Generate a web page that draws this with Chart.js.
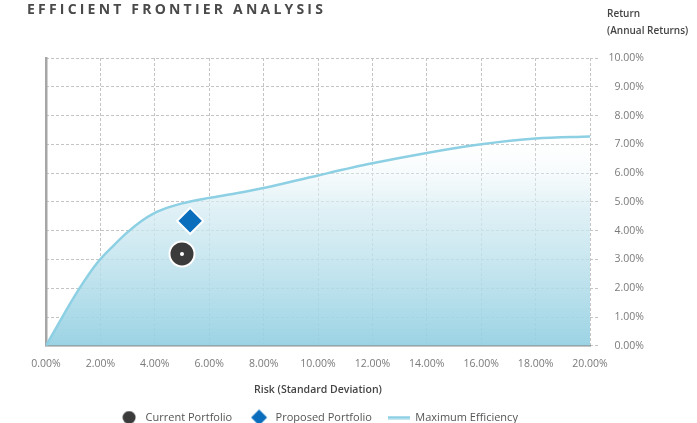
<!DOCTYPE html>
<html>
<head>
<meta charset="utf-8">
<script src="https://cdn.jsdelivr.net/npm/chart.js@4.4.1/dist/chart.umd.min.js"></script>
<style>
  html, body { margin: 0; padding: 0; background: #ffffff; }
  #wrap { width: 697px; height: 423px; position: relative; }
</style>
</head>
<body>
<div id="wrap"><canvas id="c" width="697" height="423"></canvas></div>
<script>
// ---- Data ----
const chartTitle = 'EFFICIENT FRONTIER ANALYSIS';
const yTitleLines = ['Return', '(Annual Returns)'];
const xTitle = 'Risk (Standard Deviation)';
const seriesNames = ['Current Portfolio', 'Proposed Portfolio', 'Maximum Efficiency'];

// Efficient frontier (risk %, return %)
const frontierRisk   = [0, 0.6, 1.2, 1.9, 2.5, 3.0, 3.5, 4.0, 4.5, 5.0, 6.0, 7.0, 8.0, 10.0, 12.0, 14.0, 16.0, 18.0, 20.0];
const frontierReturn = [0, 1.0, 1.95, 2.9, 3.5, 3.95, 4.33, 4.62, 4.81, 4.95, 5.14, 5.3, 5.48, 5.92, 6.34, 6.7, 7.0, 7.2, 7.27];

// Portfolios
const currentRisk = [5.0];
const currentReturn = [3.19];
const proposedRisk = [5.3];
const proposedReturn = [4.34];

// Axis ticks
const xTickMin = 0, xTickMax = 20, xTickStep = 2;
const yTickMin = 0, yTickMax = 10, yTickStep = 1;

// ---- Build ----
const toPts = (xs, ys) => xs.map((x, i) => ({ x: x, y: ys[i] }));
const pct = v => Number(v).toFixed(2) + '%';

const FONT = "'Open Sans', 'Liberation Sans', sans-serif";
const CUR_COLOR = '#3b3b3b';
const PROP_COLOR = '#0a6ebd';
const LINE_COLOR = '#8dd0e4';
const GRID_COLOR = '#c4c4c4';

function iconCanvas(w, h, draw) {
  const c = document.createElement('canvas');
  c.width = w; c.height = h;
  draw(c.getContext('2d'), w, h);
  return c;
}
const iconCircle = iconCanvas(14, 14, (g) => {
  g.fillStyle = CUR_COLOR; g.beginPath(); g.arc(7, 7, 6.5, 0, Math.PI * 2); g.fill();
});
const iconDiamond = iconCanvas(18, 18, (g) => {
  g.fillStyle = PROP_COLOR; g.beginPath();
  g.moveTo(9, 1); g.lineTo(17, 9); g.lineTo(9, 17); g.lineTo(1, 9); g.closePath(); g.fill();
});
const iconLine = iconCanvas(22, 4, (g) => {
  g.fillStyle = LINE_COLOR; g.fillRect(0, 0.5, 22, 3);
});
const legendIcons = [iconCircle, iconDiamond, iconLine];

const textPlugin = {
  id: 'texts',
  afterDraw(chart) {
    const ctx = chart.ctx;
    ctx.save();
    ctx.textBaseline = 'middle';
    ctx.textAlign = 'left';
    ctx.fillStyle = '#4a4a4a';
    ctx.font = "700 14px " + FONT;
    ctx.letterSpacing = '3.2px';
    ctx.fillText(chartTitle, 27, 10);
    ctx.letterSpacing = '0px';
    ctx.fillStyle = '#444444';
    ctx.font = "600 10px " + FONT;
    ctx.fillText(yTitleLines[0], 607, 14);
    ctx.fillText(yTitleLines[1], 607, 31);
    ctx.restore();
  }
};

const ctx = document.getElementById('c').getContext('2d');
new Chart(ctx, {
  type: 'scatter',
  data: {
    datasets: [
      {
        label: '_dot',
        data: toPts(currentRisk, currentReturn),
        pointRadius: 2,
        pointHoverRadius: 2,
        pointBackgroundColor: '#ffffff',
        pointBorderWidth: 0
      },
      {
        label: seriesNames[0],
        data: toPts(currentRisk, currentReturn),
        pointStyle: 'circle',
        pointRadius: 12.5,
        pointHoverRadius: 12.5,
        pointBackgroundColor: CUR_COLOR,
        pointBorderColor: '#ffffff',
        pointBorderWidth: 2
      },
      {
        label: seriesNames[1],
        data: toPts(proposedRisk, proposedReturn),
        pointStyle: 'rectRot',
        pointRadius: 13,
        pointHoverRadius: 13,
        pointBackgroundColor: PROP_COLOR,
        pointBorderColor: '#ffffff',
        pointBorderWidth: 2
      },
      {
        type: 'line',
        label: seriesNames[2],
        data: toPts(frontierRisk, frontierReturn),
        showLine: true,
        borderColor: LINE_COLOR,
        borderWidth: 2.5,
        pointRadius: 0,
        pointHoverRadius: 0,
        cubicInterpolationMode: 'monotone',
        fill: 'origin',
        backgroundColor: (c) => {
          const area = c.chart.chartArea;
          if (!area) return 'rgba(150,210,228,0.5)';
          const g = c.chart.ctx.createLinearGradient(0, area.top + 75, 0, area.bottom);
          g.addColorStop(0, 'rgba(255,255,255,0)');
          g.addColorStop(0.35, 'rgba(214,236,243,0.75)');
          g.addColorStop(1, 'rgba(148,208,226,0.93)');
          return g;
        }
      }
    ]
  },
  options: {
    responsive: false,
    animation: false,
    devicePixelRatio: 1,
    layout: { padding: { left: 46, right: 53, top: 58, bottom: -10 } },
    scales: {
      x: {
        type: 'linear',
        min: xTickMin, max: xTickMax,
        ticks: {
          stepSize: xTickStep,
          callback: v => pct(v),
          color: '#7a7a7a',
          font: { family: FONT, size: 10.5 },
          padding: 12,
          maxRotation: 0
        },
        grid: { color: GRID_COLOR, drawTicks: false, lineWidth: 1 },
        border: { display: true, color: '#8e8e8e', width: 1.5, dash: [3, 2] },
        title: {
          display: true, text: xTitle, color: '#444444',
          font: { family: FONT, size: 10.5, weight: '600' },
          padding: { top: 1, bottom: 0 }
        }
      },
      y: {
        type: 'linear',
        position: 'right',
        min: yTickMin, max: yTickMax,
        ticks: {
          stepSize: yTickStep,
          callback: v => pct(v),
          color: '#7a7a7a',
          font: { family: FONT, size: 10.5 },
          padding: 10,
          crossAlign: 'far'
        },
        grid: { color: GRID_COLOR, tickLength: 8, tickColor: GRID_COLOR, tickBorderDash: [3, 2] },
        border: { display: false, dash: [3, 2] },
        afterFit: s => { s.width = 54; }
      },
      yLeft: {
        type: 'linear',
        position: 'left',
        min: yTickMin, max: yTickMax,
        ticks: { display: false },
        grid: { display: false, drawTicks: false },
        border: { display: true, color: '#a6a6a6', width: 2.5 },
        afterFit: s => { s.width = 0; }
      }
    },
    plugins: {
      legend: {
        position: 'bottom',
        fullSize: false,
        labels: {
          usePointStyle: true,
          pointStyleWidth: 22,
          boxHeight: 11,
          padding: 16,
          color: '#555555',
          font: { family: FONT, size: 11 },
          filter: item => !item.text.startsWith('_'),
          generateLabels: (chart) => chart.data.datasets.map((ds, i) => ({
            text: ds.label,
            datasetIndex: i,
            pointStyle: ds.label.startsWith('_') ? 'circle' : legendIcons[i - 1],
            fillStyle: '#000',
            strokeStyle: '#000',
            lineWidth: 0,
            hidden: false,
            fontColor: '#555555'
          }))
        }
      },
      tooltip: { enabled: false },
      title: { display: false }
    }
  },
  plugins: [textPlugin]
});
</script>
</body>
</html>
